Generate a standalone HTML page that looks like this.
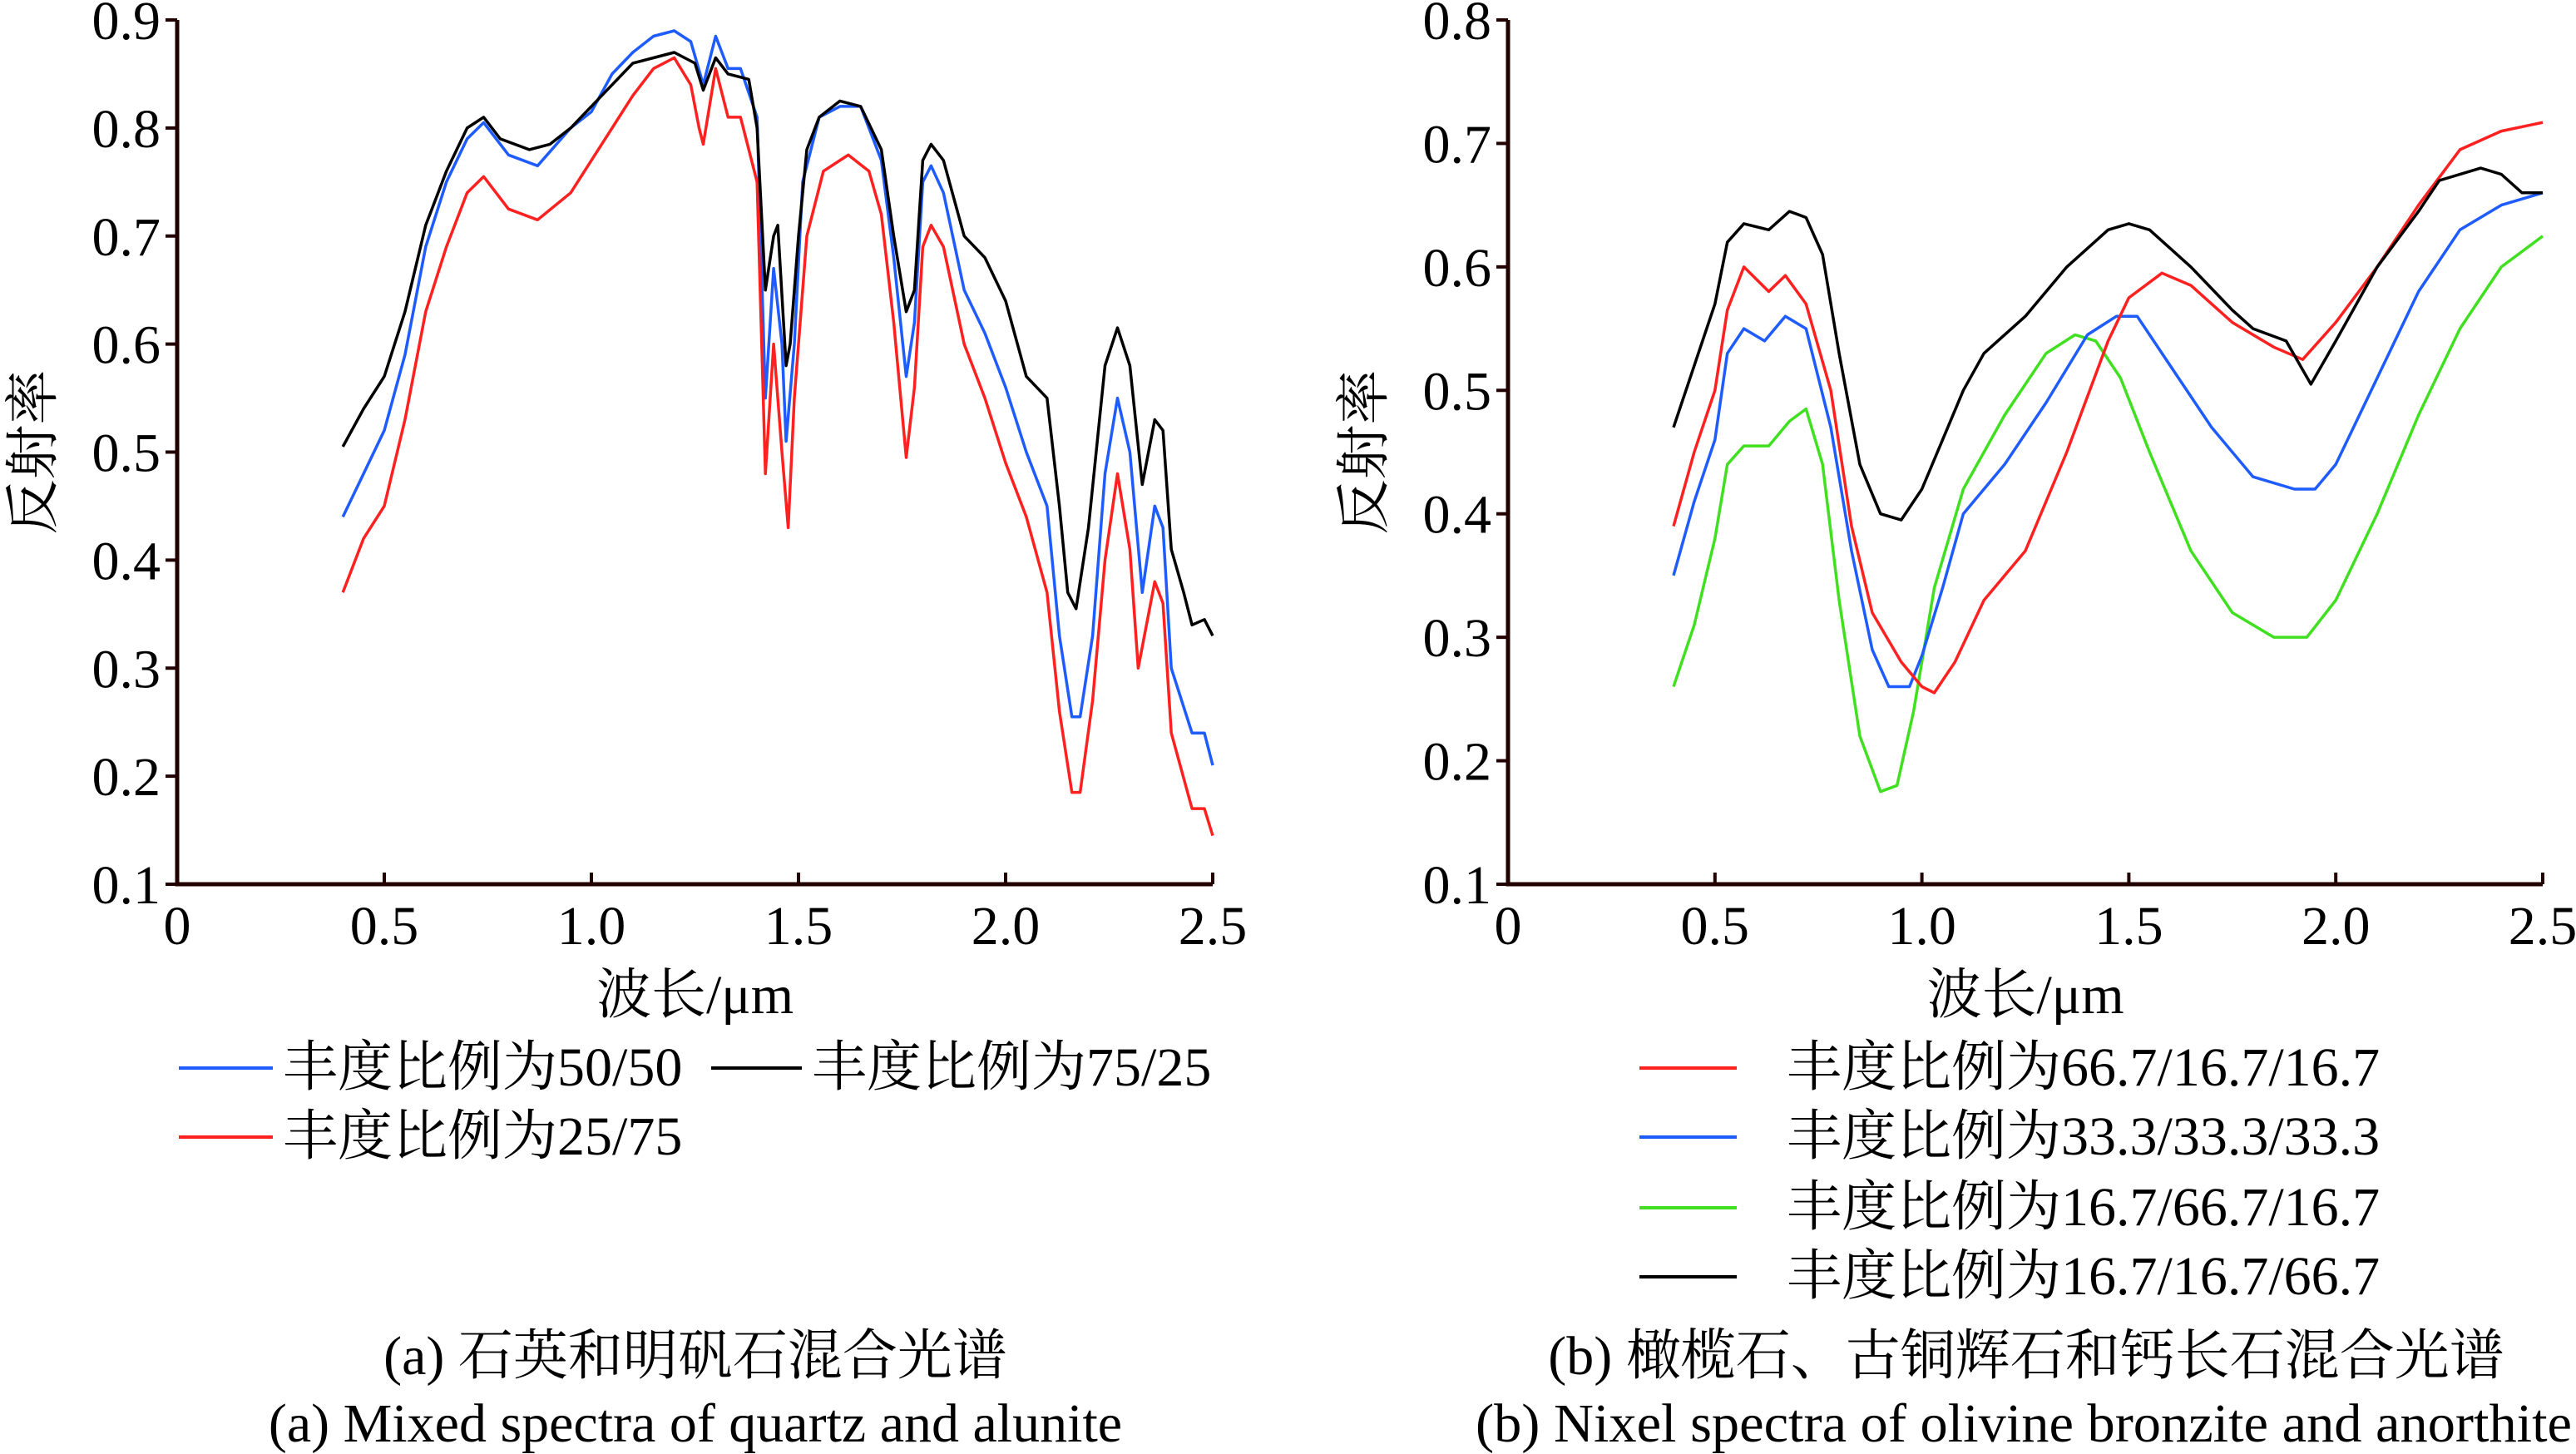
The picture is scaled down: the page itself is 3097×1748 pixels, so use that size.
<!DOCTYPE html>
<html><head><meta charset="utf-8"><style>
html,body{margin:0;padding:0;background:#fff;}
svg{display:block;font-family:"Liberation Serif","Noto Serif CJK SC","Noto Sans CJK SC",serif;}
</style></head><body>
<svg id="fig" width="3097" height="1748" viewBox="0 0 3097 1748">
<g id="gA"></g>
<g id="gB"></g>
<g>
<line x1="215" y1="1284" x2="328" y2="1284" stroke="#1e5cff" stroke-width="4"/>
<text x="340" y="1305" font-size="66">丰度比例为50/50</text>
<line x1="855" y1="1284" x2="964" y2="1284" stroke="#000" stroke-width="4"/>
<text x="976" y="1305" font-size="66">丰度比例为75/25</text>
<line x1="215" y1="1367" x2="328" y2="1367" stroke="#ff2020" stroke-width="4"/>
<text x="340" y="1388" font-size="66">丰度比例为25/75</text>
</g>
<g>
<line x1="1971" y1="1284" x2="2088" y2="1284" stroke="#ff2020" stroke-width="4"/>
<text x="2148" y="1305" font-size="66">丰度比例为66.7/16.7/16.7</text>
<line x1="1971" y1="1367" x2="2088" y2="1367" stroke="#1e5cff" stroke-width="4"/>
<text x="2148" y="1388" font-size="66">丰度比例为33.3/33.3/33.3</text>
<line x1="1971" y1="1452" x2="2088" y2="1452" stroke="#40e020" stroke-width="4"/>
<text x="2148" y="1473" font-size="66">丰度比例为16.7/66.7/16.7</text>
<line x1="1971" y1="1535" x2="2088" y2="1535" stroke="#000" stroke-width="4"/>
<text x="2148" y="1556" font-size="66">丰度比例为16.7/16.7/66.7</text>
</g>
<text x="836" y="1652" font-size="66" text-anchor="middle">(a) 石英和明矾石混合光谱</text>
<text x="836" y="1733" font-size="66" text-anchor="middle">(a) Mixed spectra of quartz and alunite</text>
<text x="2436" y="1652" font-size="66" text-anchor="middle">(b) 橄榄石、古铜辉石和钙长石混合光谱</text>
<text x="1774" y="1733" font-size="66" textLength="1318" lengthAdjust="spacingAndGlyphs">(b) Nixel spectra of olivine bronzite and anorthite</text>
</svg>
<script>
const xTicks=[0,0.5,1.0,1.5,2.0,2.5];
const xTickLabels=["0","0.5","1.0","1.5","2.0","2.5"];
const yTicksA=[0.1,0.2,0.3,0.4,0.5,0.6,0.7,0.8,0.9];
const yTicksB=[0.1,0.2,0.3,0.4,0.5,0.6,0.7,0.8];
const aBlackX=[0.4,0.45,0.5,0.55,0.6,0.65,0.7,0.74,0.78,0.85,0.9,0.95,1.0,1.05,1.1,1.15,1.2,1.25,1.27,1.3,1.33,1.38,1.4,1.42,1.44,1.45,1.47,1.48,1.5,1.52,1.55,1.6,1.65,1.7,1.73,1.76,1.78,1.8,1.82,1.85,1.9,1.95,2.0,2.05,2.1,2.13,2.15,2.17,2.2,2.24,2.27,2.3,2.33,2.36,2.38,2.4,2.43,2.45,2.48,2.5];
const aBlackY=[0.505,0.54,0.57,0.63,0.71,0.76,0.8,0.81,0.79,0.78,0.785,0.8,0.82,0.84,0.86,0.865,0.87,0.86,0.835,0.865,0.85,0.845,0.8,0.65,0.7,0.71,0.58,0.6,0.7,0.78,0.81,0.825,0.82,0.78,0.7,0.63,0.65,0.77,0.785,0.77,0.7,0.68,0.64,0.57,0.55,0.45,0.37,0.355,0.43,0.58,0.615,0.58,0.47,0.53,0.52,0.41,0.37,0.34,0.345,0.33];
const aBlueX=[0.4,0.45,0.5,0.55,0.6,0.65,0.7,0.74,0.8,0.87,0.95,1.0,1.05,1.1,1.15,1.2,1.24,1.27,1.3,1.33,1.36,1.4,1.42,1.44,1.46,1.47,1.49,1.51,1.55,1.6,1.65,1.7,1.73,1.76,1.78,1.8,1.82,1.85,1.9,1.95,2.0,2.05,2.1,2.13,2.16,2.18,2.21,2.24,2.27,2.3,2.33,2.36,2.38,2.4,2.45,2.48,2.5];
const aBlueY=[0.44,0.48,0.52,0.59,0.69,0.75,0.79,0.805,0.775,0.765,0.8,0.815,0.85,0.87,0.885,0.89,0.88,0.84,0.885,0.855,0.855,0.81,0.55,0.67,0.6,0.51,0.6,0.75,0.81,0.82,0.82,0.77,0.68,0.57,0.62,0.75,0.765,0.74,0.65,0.61,0.56,0.5,0.45,0.33,0.255,0.255,0.33,0.48,0.55,0.5,0.37,0.45,0.43,0.3,0.24,0.24,0.21];
const aRedX=[0.4,0.45,0.5,0.55,0.6,0.65,0.7,0.74,0.8,0.87,0.95,1.0,1.05,1.1,1.15,1.2,1.24,1.26,1.27,1.3,1.33,1.36,1.4,1.42,1.44,1.46,1.475,1.49,1.52,1.56,1.62,1.67,1.7,1.73,1.76,1.78,1.8,1.82,1.85,1.9,1.95,2.0,2.05,2.1,2.13,2.16,2.18,2.21,2.24,2.27,2.3,2.32,2.36,2.38,2.4,2.45,2.48,2.5];
const aRedY=[0.37,0.42,0.45,0.53,0.63,0.69,0.74,0.755,0.725,0.715,0.74,0.77,0.8,0.83,0.855,0.865,0.84,0.8,0.785,0.855,0.81,0.81,0.75,0.48,0.6,0.5,0.43,0.55,0.7,0.76,0.775,0.76,0.72,0.62,0.495,0.56,0.69,0.71,0.69,0.6,0.55,0.49,0.44,0.37,0.26,0.185,0.185,0.27,0.4,0.48,0.41,0.3,0.38,0.36,0.24,0.17,0.17,0.145];
const bBlackX=[0.4,0.45,0.5,0.53,0.57,0.63,0.68,0.72,0.76,0.8,0.85,0.9,0.95,1.0,1.05,1.1,1.15,1.25,1.35,1.45,1.5,1.55,1.65,1.75,1.8,1.88,1.94,2.0,2.1,2.2,2.25,2.35,2.4,2.45,2.5];
const bBlackY=[0.47,0.52,0.57,0.62,0.635,0.63,0.645,0.64,0.61,0.53,0.44,0.4,0.395,0.42,0.46,0.5,0.53,0.56,0.6,0.63,0.635,0.63,0.6,0.565,0.55,0.54,0.505,0.54,0.6,0.645,0.67,0.68,0.675,0.66,0.66];
const bRedX=[0.4,0.45,0.5,0.53,0.57,0.63,0.67,0.72,0.78,0.83,0.88,0.95,1.0,1.03,1.08,1.15,1.25,1.35,1.45,1.5,1.58,1.65,1.75,1.85,1.92,2.0,2.1,2.2,2.3,2.4,2.5];
const bRedY=[0.39,0.45,0.5,0.565,0.6,0.58,0.593,0.57,0.5,0.39,0.32,0.28,0.26,0.255,0.28,0.33,0.37,0.45,0.54,0.575,0.595,0.585,0.555,0.535,0.525,0.555,0.6,0.65,0.695,0.71,0.717];
const bBlueX=[0.4,0.45,0.5,0.53,0.57,0.62,0.67,0.72,0.78,0.83,0.88,0.92,0.97,1.0,1.05,1.1,1.2,1.3,1.4,1.47,1.52,1.6,1.7,1.8,1.9,1.95,2.0,2.1,2.2,2.3,2.4,2.5];
const bBlueY=[0.35,0.41,0.46,0.53,0.55,0.54,0.56,0.55,0.47,0.37,0.29,0.26,0.26,0.285,0.34,0.4,0.44,0.49,0.545,0.56,0.56,0.52,0.47,0.43,0.42,0.42,0.44,0.51,0.58,0.63,0.65,0.66];
const bGreenX=[0.4,0.45,0.5,0.53,0.57,0.63,0.68,0.72,0.76,0.8,0.85,0.9,0.94,0.98,1.03,1.1,1.2,1.3,1.37,1.42,1.48,1.55,1.65,1.75,1.85,1.93,2.0,2.1,2.2,2.3,2.4,2.5];
const bGreenY=[0.26,0.31,0.38,0.44,0.455,0.455,0.475,0.485,0.44,0.33,0.22,0.175,0.18,0.24,0.34,0.42,0.48,0.53,0.545,0.54,0.51,0.45,0.37,0.32,0.3,0.3,0.33,0.4,0.48,0.55,0.6,0.625];

const NS="http://www.w3.org/2000/svg";
function mk(tag,attrs,parent){const e=document.createElementNS(NS,tag);for(const k in attrs)e.setAttribute(k,attrs[k]);parent.appendChild(e);return e;}

function drawChart(g,left,right,top,bottom,ymin,ymax,yTicks,series,prefix,ylabX){
  const sx=v=>left+(v/2.5)*(right-left);
  const sy=v=>bottom-(v-ymin)/(ymax-ymin)*(bottom-top);
  for(const s of series){
    let d='';
    s.x.forEach((v,i)=>{d+=(i?'L':'M')+sx(v).toFixed(1)+' '+sy(s.y[i]).toFixed(1);});
    const p=mk('path',{d:d,fill:'none',stroke:s.c,'stroke-width':3.5,'stroke-linejoin':'round'},g);
    
    
  }
  const ax=mk('path',{d:`M${left} ${top}V${bottom}H${right}`,fill:'none',stroke:'#200','stroke-width':5},g);
  
  
  yTicks.forEach(v=>{
    const y=sy(v);
    const t=mk('line',{x1:left-14,x2:left,y1:y,y2:y,stroke:'#200','stroke-width':4},g);
    
    
    const l=mk('text',{x:left-20,y:y+23,'font-size':66,'text-anchor':'end'},g);
    l.textContent=v.toFixed(1);
    
    
  });
  xTicks.forEach((v,i)=>{
    const x=sx(v);
    if(i>0){
      const t=mk('line',{x1:x,x2:x,y1:bottom-14,y2:bottom,stroke:'#200','stroke-width':4},g);
      
      
    }
    const l=mk('text',{x:x,y:bottom+72,'font-size':66,'text-anchor':'middle'},g);
    l.textContent=xTickLabels[i];
    
    
  });
  const xt=mk('text',{x:(left+right)/2,y:bottom+155,'font-size':66,'text-anchor':'middle'},g);
  xt.textContent='波长/μm';
  
  
  const yt=mk('text',{x:0,y:0,'font-size':66,'text-anchor':'middle',transform:`translate(${ylabX},${(top+bottom)/2}) rotate(-90)`},g);
  yt.textContent='反射率';
  
  
}
drawChart(document.getElementById('gA'),213,1458,24,1063,0.1,0.9,yTicksA,[
 {x:aBlueX,y:aBlueY,c:'#1e5cff',n:'50-50'},
 {x:aRedX,y:aRedY,c:'#ff2020',n:'25-75'},
 {x:aBlackX,y:aBlackY,c:'#000',n:'75-25'}],'chart-a',62);
drawChart(document.getElementById('gB'),1813,3057,24,1063,0.1,0.8,yTicksB,[
 {x:bGreenX,y:bGreenY,c:'#40e020',n:'16-66-16'},
 {x:bBlueX,y:bBlueY,c:'#1e5cff',n:'33-33-33'},
 {x:bRedX,y:bRedY,c:'#ff2020',n:'66-16-16'},
 {x:bBlackX,y:bBlackY,c:'#000',n:'16-16-66'}],'chart-b',1662);
</script>
</body></html>
